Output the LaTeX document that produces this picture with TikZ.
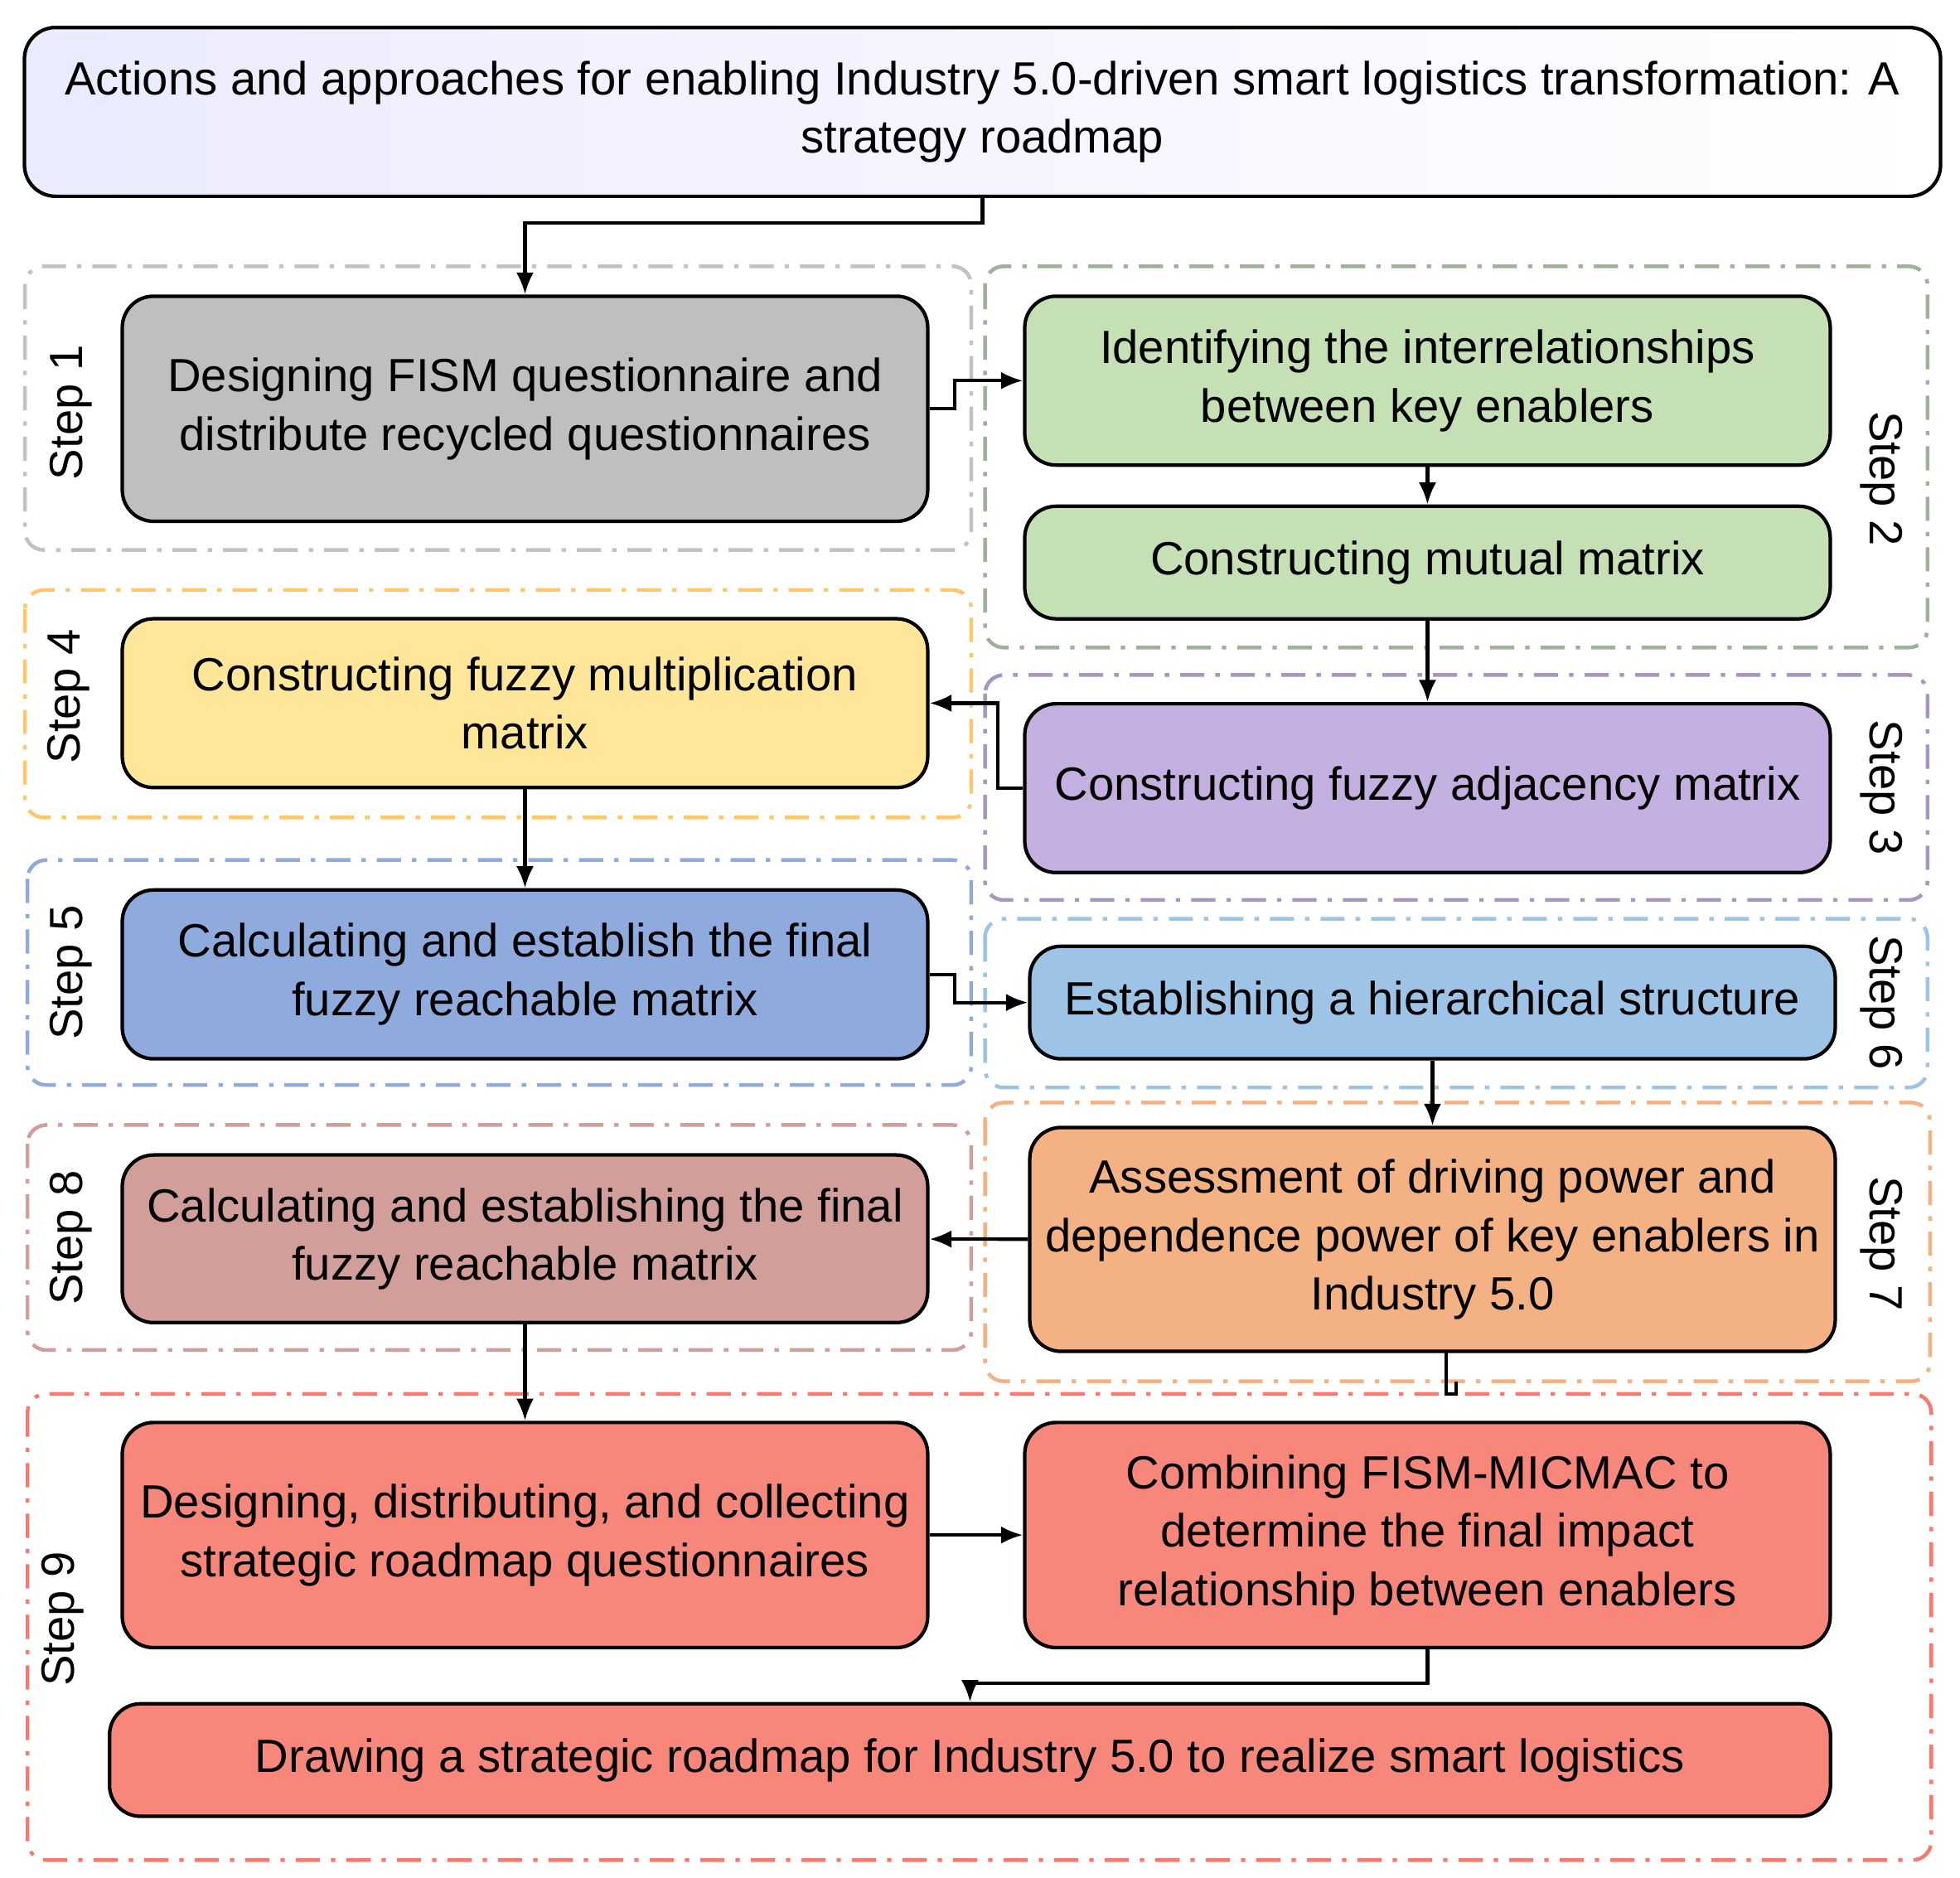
\documentclass[tikz,border=0pt]{standalone}
\usepackage{fontspec}
\setmainfont{Liberation Sans}
\begin{document}
\begin{tikzpicture}[x=0.01cm,y=-0.01cm,
  box/.style={draw=black,line width=0.8pt,rounded corners=0.25cm,align=center,inner sep=0pt,font=\fontsize{10.6}{13.3}\selectfont},
  grp/.style={line width=0.85pt,rounded corners=0.15cm,dash pattern=on 5.5pt off 2.5pt on 1pt off 2.5pt},
  lbl/.style={font=\fontsize{10.6}{13.3}\selectfont},
  arr/.style={line width=0.8pt,-{Latex[length=5pt,width=4pt]}},
  ln/.style={line width=0.8pt}]
\usetikzlibrary{arrows.meta}
\useasboundingbox (0,0) rectangle (1568,1502);
\definecolor{cgray}{HTML}{BFBFBF}\definecolor{cgreen}{HTML}{C5E0B4}
\definecolor{cyel}{HTML}{FFE699}\definecolor{cpur}{HTML}{C4B0E0}
\definecolor{cblue}{HTML}{8FAADC}\definecolor{clb}{HTML}{9DC3E6}
\definecolor{cor}{HTML}{F4B183}\definecolor{cbr}{HTML}{D19E99}
\definecolor{csal}{HTML}{F8877B}
% groups
\draw[grp,draw=cgray!80!black!60] (20,213) rectangle (777,440);
\draw[grp,draw=cgreen!70!black!80] (788,213) rectangle (1542,518);
\draw[grp,draw=cyel!70!orange] (20,472) rectangle (777,654);
\draw[grp,draw=cpur!85!black] (788,540) rectangle (1542,720);
\draw[grp,draw=cblue] (22,688) rectangle (777,868);
\draw[grp,draw=clb] (788,735) rectangle (1542,870);
\draw[grp,draw=cor] (788,882) rectangle (1544,1105);
\draw[grp,draw=cbr] (22,900) rectangle (777,1080);
\draw[grp,draw=csal!90!red] (22,1115) rectangle (1545,1488);
% title
\node[box,left color=blue!8!white,right color=white,minimum width=15.32cm,minimum height=1.35cm] (t) at (786,89.5)
 {Actions and approaches for enabling Industry 5.0-driven smart logistics transformation: A\\strategy roadmap};
\node[box,fill=cgray,minimum width=6.44cm,minimum height=1.8cm] (b1) at (420,327) {Designing FISM questionnaire and\\distribute recycled questionnaires};
\node[box,fill=cgreen,minimum width=6.44cm,minimum height=1.35cm] (b2a) at (1142,304.5) {Identifying the interrelationships\\between key enablers};
\node[box,fill=cgreen,minimum width=6.44cm,minimum height=0.9cm] (b2b) at (1142,450) {Constructing mutual matrix};
\node[box,fill=cyel,minimum width=6.44cm,minimum height=1.35cm] (b4) at (420,562.5) {Constructing fuzzy multiplication\\matrix};
\node[box,fill=cpur,minimum width=6.44cm,minimum height=1.35cm] (b3) at (1142,630.5) {Constructing fuzzy adjacency matrix};
\node[box,fill=cblue,minimum width=6.44cm,minimum height=1.35cm] (b5) at (420,779.5) {Calculating and establish the final\\fuzzy reachable matrix};
\node[box,fill=clb,minimum width=6.44cm,minimum height=0.9cm] (b6) at (1146,802) {Establishing a hierarchical structure};
\node[box,fill=cor,minimum width=6.44cm,minimum height=1.79cm] (b7) at (1146,991.5) {Assessment of driving power and\\dependence power of key enablers in\\Industry 5.0};
\node[box,fill=cbr,minimum width=6.44cm,minimum height=1.34cm] (b8) at (420,991) {Calculating and establishing the final\\fuzzy reachable matrix};
\node[box,fill=csal,minimum width=6.44cm,minimum height=1.8cm] (b9a) at (420,1228) {Designing, distributing, and collecting\\strategic roadmap questionnaires};
\node[box,fill=csal,minimum width=6.44cm,minimum height=1.8cm] (b9b) at (1142,1228) {Combining FISM-MICMAC to\\determine the final impact\\relationship between enablers};
\node[box,fill=csal,minimum width=13.76cm,minimum height=0.9cm] (b9c) at (776,1408) {Drawing a strategic roadmap for Industry 5.0 to realize smart logistics};
% step labels
\node[lbl,rotate=90] (s1) at (57,330) {Step 1};
\node[lbl,rotate=-90] (s2) at (1505,383) {Step 2};
\node[lbl,rotate=90] (s4) at (55,557) {Step 4};
\node[lbl,rotate=-90] (s3) at (1505,630) {Step 3};
\node[lbl,rotate=90] (s5) at (57,778) {Step 5};
\node[lbl,rotate=-90] (s6) at (1505,802) {Step 6};
\node[lbl,rotate=-90] (s7) at (1505,995) {Step 7};
\node[lbl,rotate=90] (s8) at (57,990) {Step 8};
\node[lbl,rotate=90] (s9) at (50,1295) {Step 9};
% connectors
\draw[arr] (t.south) -- ++(0,20) -| (b1.north);
\draw[arr] (b1.east) -- ++(20,0) |- (b2a.west);
\draw[arr] (b2a) -- (b2b);
\draw[arr] (b2b) -- (b3);
\draw[arr] (b3.west) -- ++(-20,0) |- (b4.east);
\draw[arr] (b4) -- (b5);
\draw[arr] (b5.east) -- ++(20,0) |- (b6.west);
\draw[arr] (b6) -- (b7);
\draw[arr] (b7) -- (b8);
\coordinate (k) at (1165,1105);
\draw[ln] (1157,1081) |- (1165,1115) -- (k);
\draw[arr] (b8) -- (b9a);
\draw[arr] (b9a) -- (b9b);
\draw[arr] (b9b.south) -- ++(0,27) -| (b9c.north);
\end{tikzpicture}
\end{document}
